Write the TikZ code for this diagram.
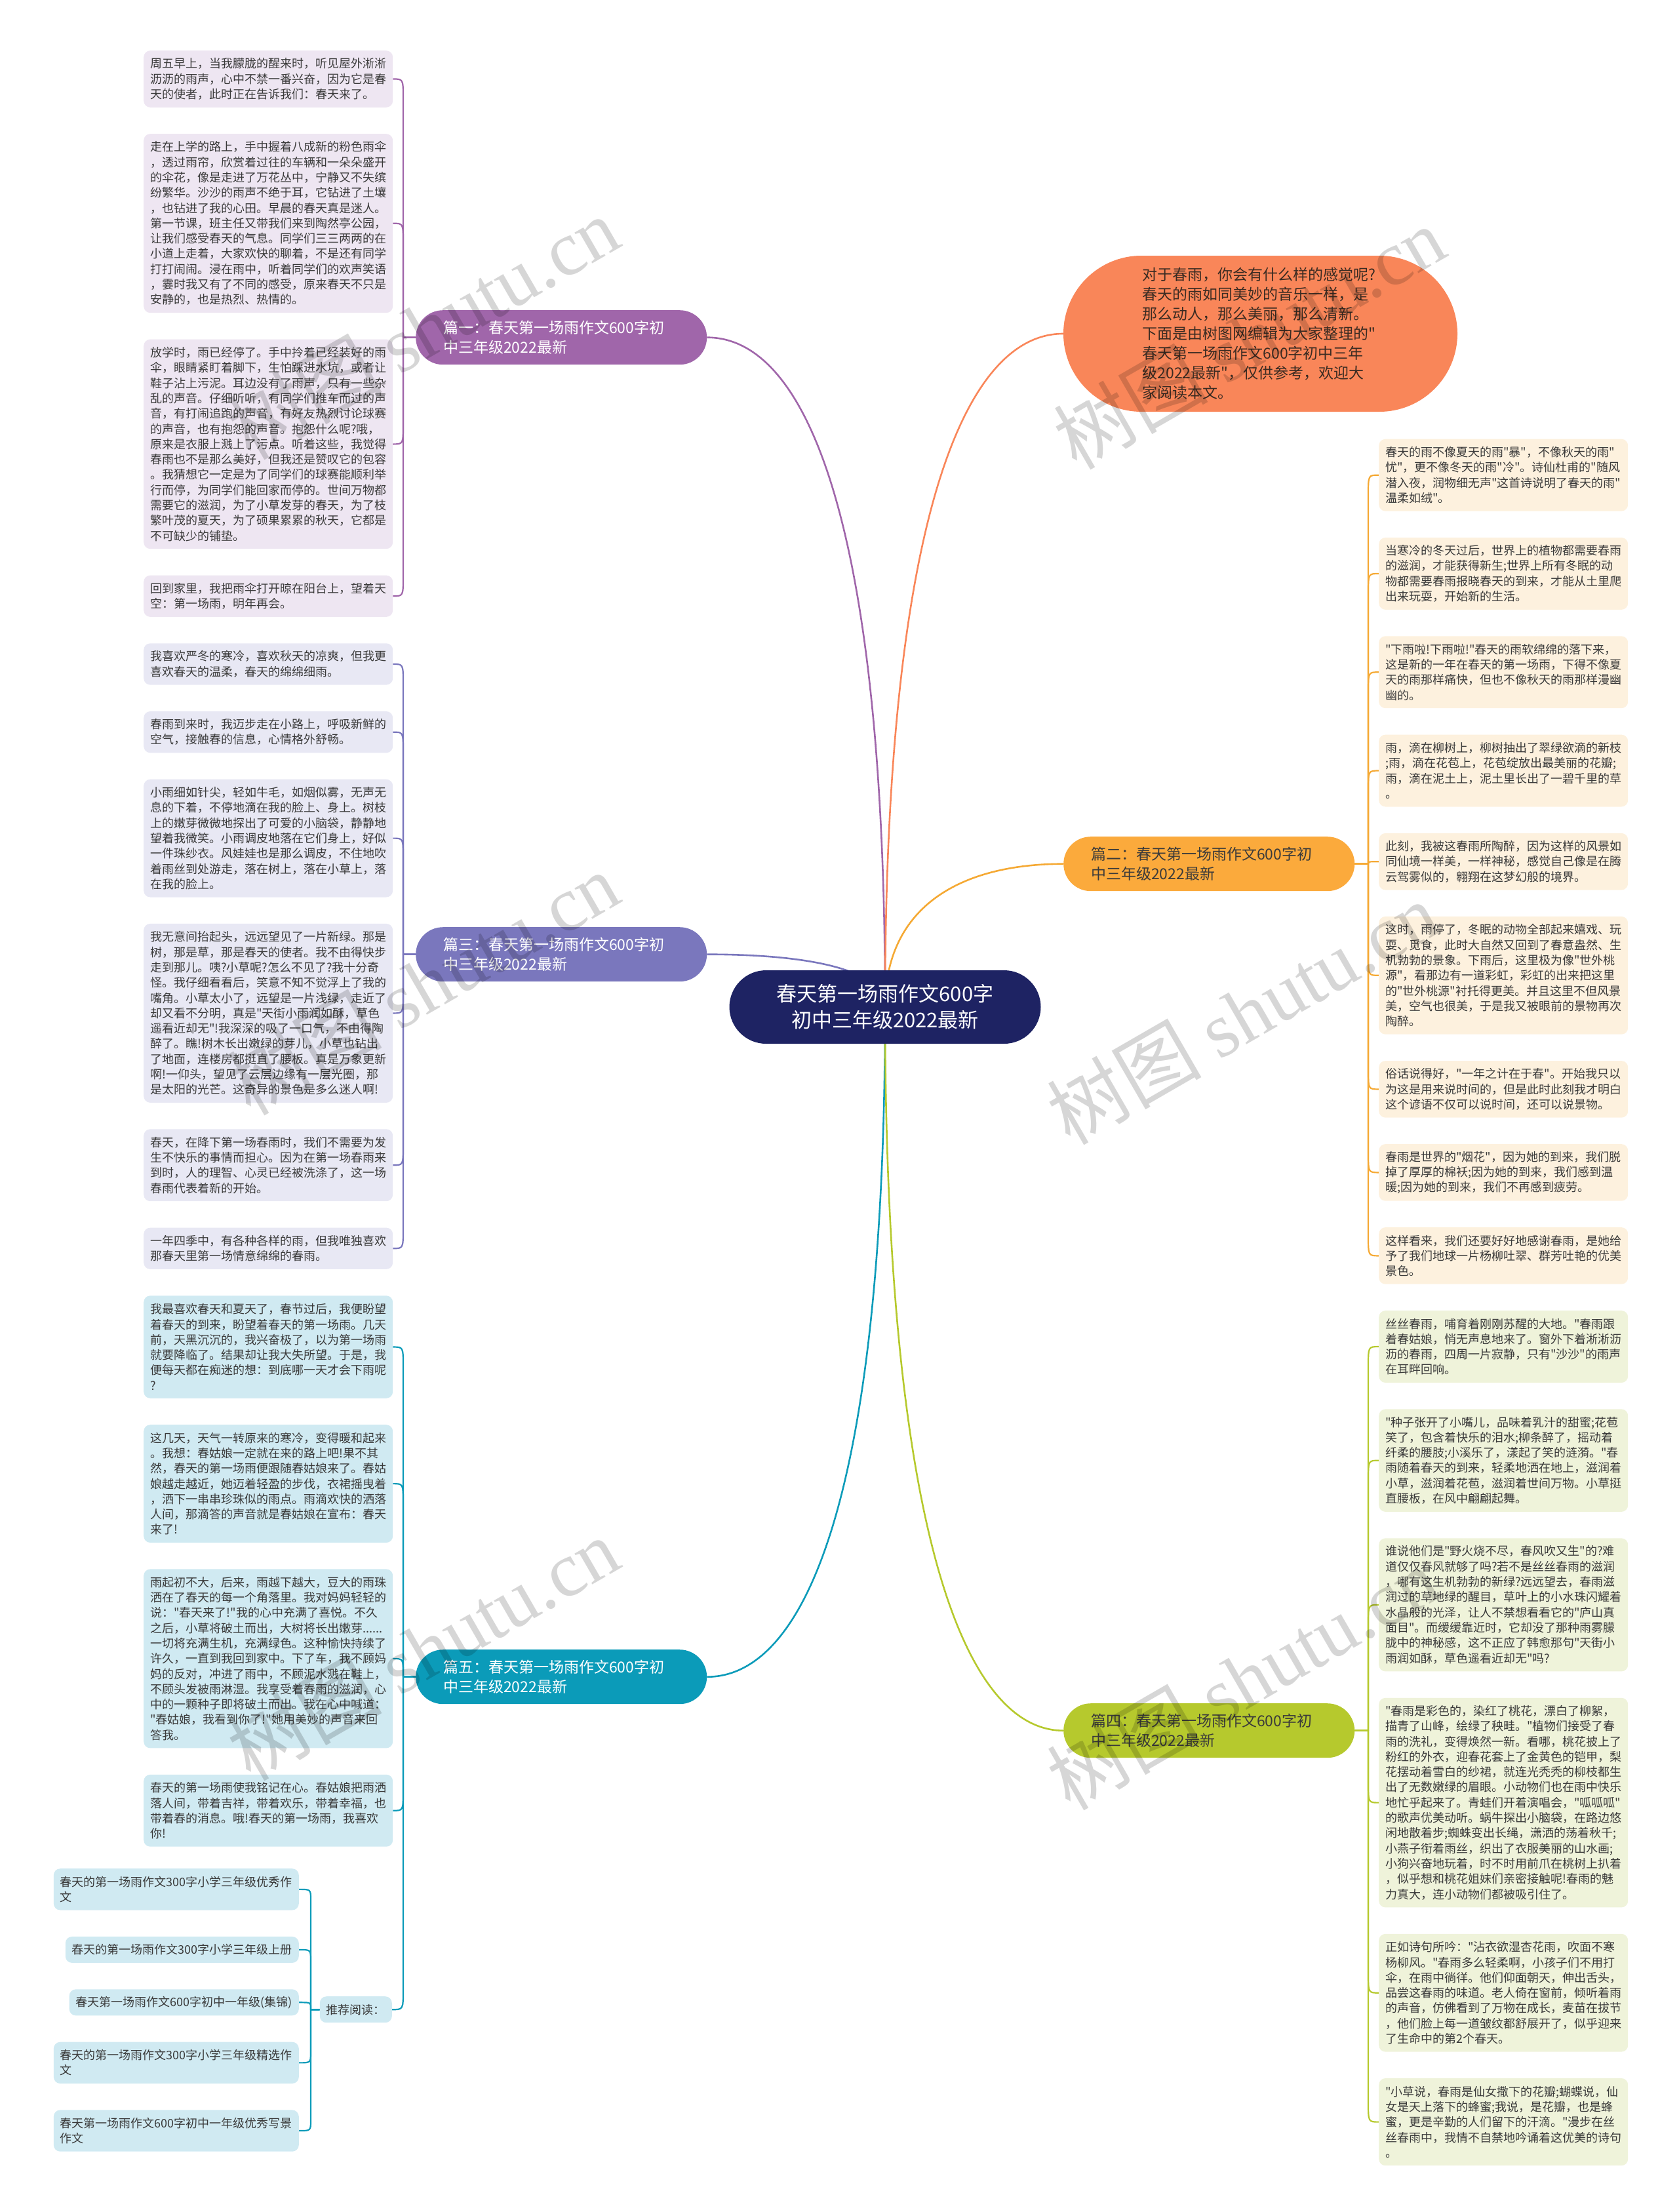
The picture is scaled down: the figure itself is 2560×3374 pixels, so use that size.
\documentclass[tikz,border=0pt]{standalone}
\usepackage{fontspec}
\setmainfont{Noto Sans CJK SC}[Ligatures=TeXOff]
\newfontfamily\wmlatin{Liberation Serif}[Ligatures=TeXOff]
\usetikzlibrary{calc}
\pgfdeclarelayer{bg}
\pgfsetlayers{bg,main}
\definecolor{txt}{HTML}{3A3A3A}
\definecolor{navy}{HTML}{1E2363}
\definecolor{cA}{HTML}{A066AA}
\definecolor{cAbg}{HTML}{EEE6F2}
\definecolor{cB}{HTML}{7A77BD}
\definecolor{cBbg}{HTML}{E8E8F4}
\definecolor{cC}{HTML}{0B9BB9}
\definecolor{cCbg}{HTML}{D0EAF2}
\definecolor{cD}{HTML}{FBAA3C}
\definecolor{cDl}{HTML}{F5A934}
\definecolor{cDbg}{HTML}{FDF1DE}
\definecolor{cE}{HTML}{B6C92D}
\definecolor{cEbg}{HTML}{EFF3DA}
\definecolor{cO}{HTML}{F98659}
\definecolor{cOt}{HTML}{3A2B22}
\tikzset{
  cbox/.style={fill=#1, draw=none, rounded corners=10pt, text width=360pt, align=left,
    inner xsep=10pt, inner ysep=0pt, text=txt, font=\fontsize{18pt}{23.3pt}\selectfont},
  nl/.style={minimum height={(#1-1)*23.3+40}},
  rbox/.style={fill=cCbg, draw=none, rounded corners=10pt, align=left,
    inner xsep=10pt, inner ysep=0pt, text=txt, font=\fontsize{18pt}{23.3pt}\selectfont},
  branch/.style={fill=#1, draw=none, rounded corners=41.5pt, text width=360pt, align=left,
    inner xsep=42pt, inner ysep=0pt, minimum height=83pt, font=\fontsize{23pt}{30pt}\selectfont},
  tr/.style={line width=2.6pt},
  ln/.style={line width=2.2pt, line join=round},
  wm/.style={rotate=30, text=black, opacity=0.16, inner sep=0pt, font=\fontsize{118pt}{120pt}\selectfont},
}
% parent anchor, child anchor, spine coordinate, signed bend length, style
\newcommand\mmconn[5]{\draw[#5] (#1) -- (#3 |- #1) -- ($(#3 |- #2)+(0,#4)$) .. controls (#3 |- #2) .. (#2);}
\begin{document}
\begin{tikzpicture}[x=1pt,y=-1pt]
\path[use as bounding box] (0,0) rectangle (2560,3374);

% ---------- centre and branches ----------
\node[fill=navy, text=white, rounded corners=56pt, minimum width=475pt, minimum height=112pt,
  align=center, inner sep=0pt, font=\fontsize{31pt}{40pt}\selectfont] (cen) at (1350,1536)
  {春天第一场雨作文600字\\初中三年级2022最新};

\node[fill=cO, text=cOt, rounded corners=119pt, minimum width=601pt, minimum height=238pt,
  text width=360pt, align=left, inner sep=0pt, font=\fontsize{23pt}{30pt}\selectfont] (intro) at (1922.5,509)
  {对于春雨，你会有什么样的感觉呢?\\春天的雨如同美妙的音乐一样，是\\那么动人，那么美丽，那么清新。\\下面是由树图网编辑为大家整理的"\\春天第一场雨作文600字初中三年\\级2022最新"，仅供参考，欢迎大\\家阅读本文。};

\node[branch=cA, text=white, anchor=north west] (b1) at (634,473) {篇一：春天第一场雨作文600字初\\中三年级2022最新};
\node[branch=cB, text=white, anchor=north west] (b3) at (634,1414) {篇三：春天第一场雨作文600字初\\中三年级2022最新};
\node[branch=cC, text=white, anchor=north west] (b5) at (634,2516) {篇五：春天第一场雨作文600字初\\中三年级2022最新};
\node[branch=cD, text=txt, anchor=north west] (b2) at (1622,1276) {篇二：春天第一场雨作文600字初\\中三年级2022最新};
\node[branch=cE, text=txt, anchor=north west] (b4) at (1622,2598) {篇四：春天第一场雨作文600字初\\中三年级2022最新};

% ---------- left column ----------
\node[cbox=cAbg, nl=3, anchor=north west] (a1) at (219,77) {周五早上，当我朦胧的醒来时，听见屋外淅淅\\沥沥的雨声，心中不禁一番兴奋，因为它是春\\天的使者，此时正在告诉我们：春天来了。};
\node[cbox=cAbg, nl=11, anchor=north west] (a2) at ([yshift=-40pt]a1.south west) {走在上学的路上，手中握着八成新的粉色雨伞\\，透过雨帘，欣赏着过往的车辆和一朵朵盛开\\的伞花，像是走进了万花丛中，宁静又不失缤\\纷繁华。沙沙的雨声不绝于耳，它钻进了土壤\\，也钻进了我的心田。早晨的春天真是迷人。\\第一节课，班主任又带我们来到陶然亭公园，\\让我们感受春天的气息。同学们三三两两的在\\小道上走着，大家欢快的聊着，不是还有同学\\打打闹闹。浸在雨中，听着同学们的欢声笑语\\，霎时我又有了不同的感受，原来春天不只是\\安静的，也是热烈、热情的。};
\node[cbox=cAbg, nl=13, anchor=north west] (a3) at ([yshift=-40pt]a2.south west) {放学时，雨已经停了。手中拎着已经装好的雨\\伞，眼睛紧盯着脚下，生怕踩进水坑，或者让\\鞋子沾上污泥。耳边没有了雨声，只有一些杂\\乱的声音。仔细听听，有同学们推车而过的声\\音，有打闹追跑的声音，有好友热烈讨论球赛\\的声音，也有抱怨的声音。抱怨什么呢?哦，\\原来是衣服上溅上了污点。听着这些，我觉得\\春雨也不是那么美好，但我还是赞叹它的包容\\。我猜想它一定是为了同学们的球赛能顺利举\\行而停，为同学们能回家而停的。世间万物都\\需要它的滋润，为了小草发芽的春天，为了枝\\繁叶茂的夏天，为了硕果累累的秋天，它都是\\不可缺少的铺垫。};
\node[cbox=cAbg, nl=2, anchor=north west] (a4) at ([yshift=-40pt]a3.south west) {回到家里，我把雨伞打开晾在阳台上，望着天\\空：第一场雨，明年再会。};

\node[cbox=cBbg, nl=2, anchor=north west] (c1) at ([yshift=-40pt]a4.south west) {我喜欢严冬的寒冷，喜欢秋天的凉爽，但我更\\喜欢春天的温柔，春天的绵绵细雨。};
\node[cbox=cBbg, nl=2, anchor=north west] (c2) at ([yshift=-40pt]c1.south west) {春雨到来时，我迈步走在小路上，呼吸新鲜的\\空气，接触春的信息，心情格外舒畅。};
\node[cbox=cBbg, nl=7, anchor=north west] (c3) at ([yshift=-40pt]c2.south west) {小雨细如针尖，轻如牛毛，如烟似雾，无声无\\息的下着，不停地滴在我的脸上、身上。树枝\\上的嫩芽微微地探出了可爱的小脑袋，静静地\\望着我微笑。小雨调皮地落在它们身上，好似\\一件珠纱衣。风娃娃也是那么调皮，不住地吹\\着雨丝到处游走，落在树上，落在小草上，落\\在我的脸上。};
\node[cbox=cBbg, nl=11, anchor=north west] (c4) at ([yshift=-40pt]c3.south west) {我无意间抬起头，远远望见了一片新绿。那是\\树，那是草，那是春天的使者。我不由得快步\\走到那儿。咦?小草呢?怎么不见了?我十分奇\\怪。我仔细看看后，笑意不知不觉浮上了我的\\嘴角。小草太小了，远望是一片浅绿，走近了\\却又看不分明，真是"天街小雨润如酥，草色\\遥看近却无"!我深深的吸了一口气，不由得陶\\醉了。瞧!树木长出嫩绿的芽儿，小草也钻出\\了地面，连楼房都挺直了腰板。真是万象更新\\啊!一仰头，望见了云层边缘有一层光圈，那\\是太阳的光芒。这奇异的景色是多么迷人啊!};
\node[cbox=cBbg, nl=4, anchor=north west] (c5) at ([yshift=-40pt]c4.south west) {春天，在降下第一场春雨时，我们不需要为发\\生不快乐的事情而担心。因为在第一场春雨来\\到时，人的理智、心灵已经被洗涤了，这一场\\春雨代表着新的开始。};
\node[cbox=cBbg, nl=2, anchor=north west] (c6) at ([yshift=-40pt]c5.south west) {一年四季中，有各种各样的雨，但我唯独喜欢\\那春天里第一场情意绵绵的春雨。};

\node[cbox=cCbg, nl=6, anchor=north west] (e1) at ([yshift=-40pt]c6.south west) {我最喜欢春天和夏天了，春节过后，我便盼望\\着春天的到来，盼望着春天的第一场雨。几天\\前，天黑沉沉的，我兴奋极了，以为第一场雨\\就要降临了。结果却让我大失所望。于是，我\\便每天都在痴迷的想：到底哪一天才会下雨呢\\?};
\node[cbox=cCbg, nl=7, anchor=north west] (e2) at ([yshift=-40pt]e1.south west) {这几天，天气一转原来的寒冷，变得暖和起来\\。我想：春姑娘一定就在来的路上吧!果不其\\然，春天的第一场雨便跟随春姑娘来了。春姑\\娘越走越近，她迈着轻盈的步伐，衣裙摇曳着\\，洒下一串串珍珠似的雨点。雨滴欢快的洒落\\人间，那滴答的声音就是春姑娘在宣布：春天\\来了!};
\node[cbox=cCbg, nl=11, anchor=north west] (e3) at ([yshift=-40pt]e2.south west) {雨起初不大，后来，雨越下越大，豆大的雨珠\\洒在了春天的每一个角落里。我对妈妈轻轻的\\说："春天来了!"我的心中充满了喜悦。不久\\之后，小草将破土而出，大树将长出嫩芽......\\一切将充满生机，充满绿色。这种愉快持续了\\许久，一直到我回到家中。下了车，我不顾妈\\妈的反对，冲进了雨中，不顾泥水溅在鞋上，\\不顾头发被雨淋湿。我享受着春雨的滋润，心\\中的一颗种子即将破土而出。我在心中喊道：\\"春姑娘，我看到你了!"她用美妙的声音来回\\答我。};
\node[cbox=cCbg, nl=4, anchor=north west] (e4) at ([yshift=-40pt]e3.south west) {春天的第一场雨使我铭记在心。春姑娘把雨洒\\落人间，带着吉祥，带着欢乐，带着幸福，也\\带着春的消息。哦!春天的第一场雨，我喜欢\\你!};

\node[rbox, minimum height=40pt, anchor=north east] (rec) at (598,3045) {推荐阅读：};
\node[rbox, minimum height=63.3pt, anchor=north east] (r1) at (456,2850) {春天的第一场雨作文300字小学三年级优秀作\\文};
\node[rbox, minimum height=40pt, anchor=north east] (r2) at ([yshift=-40pt]r1.south east) {春天的第一场雨作文300字小学三年级上册};
\node[rbox, minimum height=40pt, anchor=north east] (r3) at ([yshift=-40pt]r2.south east) {春天第一场雨作文600字初中一年级(集锦)};
\node[rbox, minimum height=63.3pt, anchor=north east] (r4) at ([yshift=-40pt]r3.south east) {春天的第一场雨作文300字小学三年级精选作\\文};
\node[rbox, minimum height=63.3pt, anchor=north east] (r5) at ([yshift=-40pt]r4.south east) {春天第一场雨作文600字初中一年级优秀写景\\作文};

% ---------- right column ----------
\node[cbox=cDbg, nl=4, anchor=north west] (p1) at (2103,669.5) {春天的雨不像夏天的雨"暴"，不像秋天的雨"\\忧"，更不像冬天的雨"冷"。诗仙杜甫的"随风\\潜入夜，润物细无声"这首诗说明了春天的雨"\\温柔如绒"。};
\node[cbox=cDbg, nl=4, anchor=north west] (p2) at ([yshift=-40pt]p1.south west) {当寒冷的冬天过后，世界上的植物都需要春雨\\的滋润，才能获得新生;世界上所有冬眠的动\\物都需要春雨报晓春天的到来，才能从土里爬\\出来玩耍，开始新的生活。};
\node[cbox=cDbg, nl=4, anchor=north west] (p3) at ([yshift=-40pt]p2.south west) {"下雨啦!下雨啦!"春天的雨软绵绵的落下来，\\这是新的一年在春天的第一场雨，下得不像夏\\天的雨那样痛快，但也不像秋天的雨那样漫幽\\幽的。};
\node[cbox=cDbg, nl=4, anchor=north west] (p4) at ([yshift=-40pt]p3.south west) {雨，滴在柳树上，柳树抽出了翠绿欲滴的新枝\\;雨，滴在花苞上，花苞绽放出最美丽的花瓣;\\雨，滴在泥土上，泥土里长出了一碧千里的草\\。};
\node[cbox=cDbg, nl=3, anchor=north west] (p5) at ([yshift=-40pt]p4.south west) {此刻，我被这春雨所陶醉，因为这样的风景如\\同仙境一样美，一样神秘，感觉自己像是在腾\\云驾雾似的，翱翔在这梦幻般的境界。};
\node[cbox=cDbg, nl=7, anchor=north west] (p6) at ([yshift=-40pt]p5.south west) {这时，雨停了，冬眠的动物全部起来嬉戏、玩\\耍、觅食，此时大自然又回到了春意盎然、生\\机勃勃的景象。下雨后，这里极为像"世外桃\\源"，看那边有一道彩虹，彩虹的出来把这里\\的"世外桃源"衬托得更美。并且这里不但风景\\美，空气也很美，于是我又被眼前的景物再次\\陶醉。};
\node[cbox=cDbg, nl=3, anchor=north west] (p7) at ([yshift=-40pt]p6.south west) {俗话说得好，"一年之计在于春"。开始我只以\\为这是用来说时间的，但是此时此刻我才明白\\这个谚语不仅可以说时间，还可以说景物。};
\node[cbox=cDbg, nl=3, anchor=north west] (p8) at ([yshift=-40pt]p7.south west) {春雨是世界的"烟花"，因为她的到来，我们脱\\掉了厚厚的棉袄;因为她的到来，我们感到温\\暖;因为她的到来，我们不再感到疲劳。};
\node[cbox=cDbg, nl=3, anchor=north west] (p9) at ([yshift=-40pt]p8.south west) {这样看来，我们还要好好地感谢春雨，是她给\\予了我们地球一片杨柳吐翠、群芳吐艳的优美\\景色。};

\node[cbox=cEbg, nl=4, anchor=north west] (g1) at ([yshift=-40pt]p9.south west) {丝丝春雨，哺育着刚刚苏醒的大地。"春雨跟\\着春姑娘，悄无声息地来了。窗外下着淅淅沥\\沥的春雨，四周一片寂静，只有"沙沙"的雨声\\在耳畔回响。};
\node[cbox=cEbg, nl=6, anchor=north west] (g2) at ([yshift=-40pt]g1.south west) {"种子张开了小嘴儿，品味着乳汁的甜蜜;花苞\\笑了，包含着快乐的泪水;柳条醉了，摇动着\\纤柔的腰肢;小溪乐了，漾起了笑的涟漪。"春\\雨随着春天的到来，轻柔地洒在地上，滋润着\\小草，滋润着花苞，滋润着世间万物。小草挺\\直腰板，在风中翩翩起舞。};
\node[cbox=cEbg, nl=8, anchor=north west] (g3) at ([yshift=-40pt]g2.south west) {谁说他们是"野火烧不尽，春风吹又生"的?难\\道仅仅春风就够了吗?若不是丝丝春雨的滋润\\，哪有这生机勃勃的新绿?远远望去，春雨滋\\润过的草地绿的醒目，草叶上的小水珠闪耀着\\水晶般的光泽，让人不禁想看看它的"庐山真\\面目"。而缓缓靠近时，它却没了那种雨雾朦\\胧中的神秘感，这不正应了韩愈那句"天街小\\雨润如酥，草色遥看近却无"吗?};
\node[cbox=cEbg, nl=13, anchor=north west] (g4) at ([yshift=-40pt]g3.south west) {"春雨是彩色的，染红了桃花，漂白了柳絮，\\描青了山峰，绘绿了秧畦。"植物们接受了春\\雨的洗礼，变得焕然一新。看哪，桃花披上了\\粉红的外衣，迎春花套上了金黄色的铠甲，梨\\花摆动着雪白的纱裙，就连光秃秃的柳枝都生\\出了无数嫩绿的眉眼。小动物们也在雨中快乐\\地忙乎起来了。青蛙们开着演唱会，"呱呱呱"\\的歌声优美动听。蜗牛探出小脑袋，在路边悠\\闲地散着步;蜘蛛变出长绳，潇洒的荡着秋千;\\小燕子衔着雨丝，织出了衣服美丽的山水画;\\小狗兴奋地玩着，时不时用前爪在桃树上扒着\\，似乎想和桃花姐妹们亲密接触呢!春雨的魅\\力真大，连小动物们都被吸引住了。};
\node[cbox=cEbg, nl=7, anchor=north west] (g5) at ([yshift=-40pt]g4.south west) {正如诗句所吟："沾衣欲湿杏花雨，吹面不寒\\杨柳风。"春雨多么轻柔啊，小孩子们不用打\\伞，在雨中徜徉。他们仰面朝天，伸出舌头，\\品尝这春雨的味道。老人倚在窗前，倾听着雨\\的声音，仿佛看到了万物在成长，麦苗在拔节\\，他们脸上每一道皱纹都舒展开了，似乎迎来\\了生命中的第2个春天。};
\node[cbox=cEbg, nl=5, anchor=north west] (g6) at ([yshift=-40pt]g5.south west) {"小草说，春雨是仙女撒下的花瓣;蝴蝶说，仙\\女是天上落下的蜂蜜;我说，是花瓣，也是蜂\\蜜，更是辛勤的人们留下的汗滴。"漫步在丝\\丝春雨中，我情不自禁地吟诵着这优美的诗句\\。};

% ---------- connectors ----------
\coordinate (sL) at (615,0);
\coordinate (sR) at (2087,0);
\coordinate (sQ) at (474,0);
\begin{pgfonlayer}{bg}
\draw[tr, cA] (cen.center) .. controls +(0,-735) and +(153,0) .. (b1.east);
\draw[tr, cO] (cen.center) .. controls +(0,-739) and +(-152,0) .. (intro.west);
\draw[tr, cDl] (cen.center) .. controls +(0,-157) and +(-152,0) .. (b2.west);
\draw[tr, cB] (cen.center) .. controls +(0,-58) and +(153,0) .. (b3.east);
\draw[tr, cC] (cen.center) .. controls +(0,736) and +(153,0) .. (b5.east);
\draw[tr, cE] (cen.center) .. controls +(0,795) and +(-152,0) .. (b4.west);

\mmconn{b1.west}{a1.east}{sL}{30}{ln,cA}
\mmconn{b1.west}{a2.east}{sL}{30}{ln,cA}
\mmconn{b1.west}{a3.east}{sL}{-30}{ln,cA}
\mmconn{b1.west}{a4.east}{sL}{-30}{ln,cA}

\mmconn{b3.west}{c1.east}{sL}{30}{ln,cB}
\mmconn{b3.west}{c2.east}{sL}{30}{ln,cB}
\mmconn{b3.west}{c3.east}{sL}{30}{ln,cB}
\mmconn{b3.west}{c4.east}{sL}{-30}{ln,cB}
\mmconn{b3.west}{c5.east}{sL}{-30}{ln,cB}
\mmconn{b3.west}{c6.east}{sL}{-30}{ln,cB}

\mmconn{b5.west}{e1.east}{sL}{30}{ln,cC}
\mmconn{b5.west}{e2.east}{sL}{30}{ln,cC}
\mmconn{b5.west}{e3.east}{sL}{25}{ln,cC}
\mmconn{b5.west}{e4.east}{sL}{-30}{ln,cC}
\mmconn{b5.west}{rec.east}{sL}{-30}{ln,cC}

\mmconn{rec.west}{r1.east}{sQ}{16}{ln,cC}
\mmconn{rec.west}{r2.east}{sQ}{16}{ln,cC}
\mmconn{rec.west}{r3.east}{sQ}{8}{ln,cC}
\mmconn{rec.west}{r4.east}{sQ}{-16}{ln,cC}
\mmconn{rec.west}{r5.east}{sQ}{-16}{ln,cC}

\mmconn{b2.east}{p1.west}{sR}{30}{ln,cDl}
\mmconn{b2.east}{p2.west}{sR}{30}{ln,cDl}
\mmconn{b2.east}{p3.west}{sR}{30}{ln,cDl}
\mmconn{b2.east}{p4.west}{sR}{30}{ln,cDl}
\draw[ln,cDl] (b2.east) -- (sR |- b2.east) .. controls (sR |- p5.west) .. (p5.west);
\mmconn{b2.east}{p6.west}{sR}{-30}{ln,cDl}
\mmconn{b2.east}{p7.west}{sR}{-30}{ln,cDl}
\mmconn{b2.east}{p8.west}{sR}{-30}{ln,cDl}
\mmconn{b2.east}{p9.west}{sR}{-30}{ln,cDl}

\mmconn{b4.east}{g1.west}{sR}{30}{ln,cE}
\mmconn{b4.east}{g2.west}{sR}{30}{ln,cE}
\mmconn{b4.east}{g3.west}{sR}{30}{ln,cE}
\mmconn{b4.east}{g4.west}{sR}{-30}{ln,cE}
\mmconn{b4.east}{g5.west}{sR}{-30}{ln,cE}
\mmconn{b4.east}{g6.west}{sR}{-30}{ln,cE}
\end{pgfonlayer}

% ---------- watermarks ----------
\foreach \n/\x/\y in {w1/645/500, w2/1905/515, w3/645/1500, w4/1895/1545, w5/645/2515, w6/1895/2560}
  \node[wm] (\n) at (\x,\y) {树图 {\wmlatin shutu.cn}};
\end{tikzpicture}
\end{document}
